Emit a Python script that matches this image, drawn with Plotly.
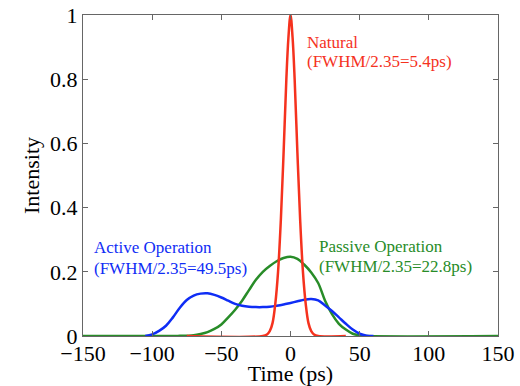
import plotly.graph_objects as go

# Time axis (ps) and intensities
t_natural = [-75, -20, -17, -15, -13, -11, -9, -7, -5, -3, -1.5, 0, 1.5, 3, 5, 7, 9, 11, 13, 15, 17, 20, 40]
i_natural = [0, 0, 0.005, 0.015, 0.04, 0.1, 0.2, 0.36, 0.57, 0.8, 0.93, 1.0, 0.93, 0.8, 0.57, 0.36, 0.2, 0.1, 0.04, 0.015, 0.005, 0, 0]

t_passive = [-150, -85, -80, -75, -70, -65, -60, -55, -50, -45, -40, -35, -30, -25, -20, -15, -10, -5, 0,
             5, 10, 15, 20, 25, 30, 35, 40, 45, 50, 55, 150]
i_passive = [0, 0, 0.0005, 0.001, 0.002, 0.006, 0.012, 0.022, 0.036, 0.058, 0.082, 0.11, 0.143, 0.175, 0.2,
             0.218, 0.233, 0.243, 0.247, 0.24, 0.222, 0.198, 0.165, 0.11, 0.068, 0.038, 0.02, 0.007, 0.002, 0, 0]

t_active = [-105, -100, -95, -90, -85, -80, -75, -70, -65, -60, -55, -50, -45, -40, -35, -30, -25, -20, -15,
            -10, -5, 0, 5, 10, 15, 20, 25, 30, 35, 40, 45, 50, 55, 60]
i_active = [0, 0.005, 0.016, 0.032, 0.058, 0.088, 0.112, 0.126, 0.132, 0.133, 0.128, 0.12, 0.11, 0.1, 0.094,
            0.091, 0.09, 0.09, 0.091, 0.094, 0.098, 0.103, 0.108, 0.113, 0.115, 0.111, 0.095, 0.078, 0.058,
            0.038, 0.02, 0.007, 0.001, 0]

x_ticks = [-150, -100, -50, 0, 50, 100, 150]
y_ticks = [0, 0.2, 0.4, 0.6, 0.8, 1]

RED = "rgb(245,50,30)"
GREEN = "rgb(40,140,40)"
BLUE = "rgb(15,45,245)"
FONT = "Liberation Serif"

fig = go.Figure()
fig.add_trace(go.Scatter(x=t_passive, y=i_passive, mode="lines", line=dict(color=GREEN, width=2.5, shape="spline")))
fig.add_trace(go.Scatter(x=t_active, y=i_active, mode="lines", line=dict(color=BLUE, width=2.5, shape="spline")))
fig.add_trace(go.Scatter(x=t_natural, y=i_natural, mode="lines", line=dict(color=RED, width=2.5, shape="spline")))

axis_common = dict(showline=True, linecolor="#666", linewidth=1.3, mirror="ticks", ticks="inside",
                   ticklen=5, tickcolor="#666", tickwidth=1, showgrid=False, zeroline=False,
                   automargin=False,
                   tickfont=dict(family=FONT, size=22, color="black"))

fig.update_layout(
    template="none",
    width=520, height=386,
    margin=dict(l=83, r=22, t=15, b=50),
    paper_bgcolor="white", plot_bgcolor="white",
    showlegend=False,
    font=dict(family=FONT, color="black"),
    xaxis=dict(range=[-150, 150], tickvals=x_ticks, ticklabelstandoff=-3,
               title=dict(text="Time (ps)", font=dict(family=FONT, size=22), standoff=0),
               **axis_common),
    yaxis=dict(range=[0, 1], tickvals=y_ticks,
               title=dict(text="Intensity", font=dict(family=FONT, size=22), standoff=4),
               **axis_common),
)

labels = [
    ("Natural", 0.537, 0.913, RED),
    ("(FWHM/2.35=5.4ps)", 0.537, 0.854, RED),
    ("Active Operation", 0.0234, 0.275, BLUE),
    ("(FWHM/2.35=49.5ps)", 0.0234, 0.211, BLUE),
    ("Passive Operation", 0.567, 0.280, GREEN),
    ("(FWHM/2.35=22.8ps)", 0.567, 0.216, GREEN),
]
for text, x, y, c in labels:
    fig.add_annotation(text=text, x=x, y=y, xref="paper", yref="paper", xanchor="left", yanchor="middle",
                       showarrow=False, font=dict(family=FONT, size=17, color=c), borderpad=0)

fig.write_html("out.html")
